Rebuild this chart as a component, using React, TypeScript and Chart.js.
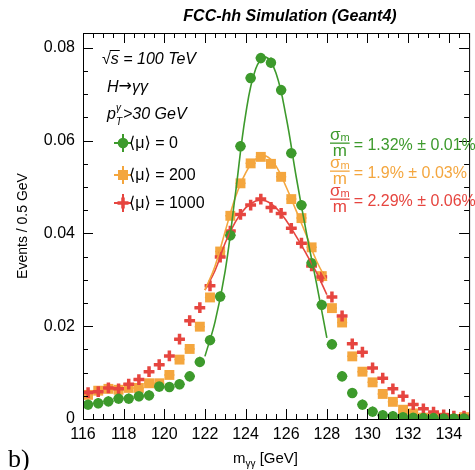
import React, { useEffect, useRef } from "react";
import { Chart, registerables } from "chart.js";

Chart.register(...registerables);

// ---------------- data ----------------
const binCenters = [
  116.25, 116.75, 117.25, 117.75, 118.25, 118.75, 119.25, 119.75, 120.25, 120.75,
  121.25, 121.75, 122.25, 122.75, 123.25, 123.75, 124.25, 124.75, 125.25, 125.75,
  126.25, 126.75, 127.25, 127.75, 128.25, 128.75, 129.25, 129.75, 130.25, 130.75,
  131.25, 131.75, 132.25, 132.75, 133.25, 133.75, 134.25, 134.75,
];
const binHalfWidth = 0.25;

const mu0Values = [
  0.0031, 0.0034, 0.0038, 0.0044, 0.0044, 0.0049, 0.0051, 0.0070, 0.0069, 0.0075,
  0.0092, 0.0123, 0.0170, 0.0264, 0.0396, 0.0588, 0.0735, 0.0778, 0.0768, 0.0709,
  0.0573, 0.0461, 0.0336, 0.0246, 0.0161, 0.0092, 0.0056, 0.0031, 0.0016, 0.0008,
  0.0006, 0.0004, 0.0003, 0.0002, 0.0002, 0.0001, 0.0001, 0.0001,
];
const mu200Values = [
  0.0052, 0.0061, 0.0065, 0.0063, 0.0067, 0.0067, 0.0077, 0.0077, 0.0095, 0.0128,
  0.0151, 0.0199, 0.0262, 0.0361, 0.0438, 0.0508, 0.0551, 0.0565, 0.0550, 0.0522,
  0.0474, 0.0433, 0.0370, 0.0308, 0.0239, 0.0208, 0.0135, 0.0102, 0.0079, 0.0054,
  0.0037, 0.0020, 0.0012, 0.0003, 0.0003, 0.0003, 0.0000, 0.0004,
];
const mu1000Values = [
  0.0057, 0.0059, 0.0067, 0.0065, 0.0075, 0.0085, 0.0102, 0.0117, 0.0136, 0.0172,
  0.0212, 0.0240, 0.0287, 0.0349, 0.0405, 0.0441, 0.0461, 0.0474, 0.0456, 0.0443,
  0.0411, 0.0379, 0.0330, 0.0306, 0.0263, 0.0222, 0.0162, 0.0144, 0.0110, 0.0088,
  0.0065, 0.0049, 0.0031, 0.0022, 0.0015, 0.0009, 0.0006, 0.0006,
];
const mu0Error = 0.0011;
const mu200Error = 0.0009;
const mu1000Error = 0.0008;

const fitX = [122.0, 122.5, 123.0, 123.5, 124.0, 124.5, 125.0, 125.5, 126.0, 126.5, 127.0, 127.5, 128.0];
const fitMu0 = [0.0135, 0.0210, 0.0320, 0.0485, 0.0655, 0.0755, 0.0780, 0.0745, 0.0650, 0.0520, 0.0400, 0.0290, 0.0175];
const fitMu200 = [0.0278, 0.0330, 0.0405, 0.0478, 0.0530, 0.0560, 0.0567, 0.0545, 0.0500, 0.0448, 0.0395, 0.0340, 0.0298];
const fitMu1000 = [0.0278, 0.0320, 0.0380, 0.0425, 0.0455, 0.0470, 0.0470, 0.0455, 0.0428, 0.0393, 0.0355, 0.0315, 0.0268];

const xMajorTicks = [116, 118, 120, 122, 124, 126, 128, 130, 132, 134];
const xMinorStep = 0.5;
const yMajorTicks = [0, 0.02, 0.04, 0.06, 0.08];
const yMinorStep = 0.005;

const legendLabels = ["⟨μ⟩ = 0", "⟨μ⟩ = 200", "⟨μ⟩ = 1000"];
const resolutionLabels = ["= 1.32% ± 0.01%", "= 1.9% ± 0.03%", "= 2.29% ± 0.06%"];

// ---------------- style ----------------
const GREEN = "#3d9a2c";
const ORANGE = "#f4a63e";
const RED = "#e6453f";
const FONT = "'Liberation Sans', Arial, 'DejaVu Sans', sans-serif";

const toXY = (xs: number[], ys: number[]) => xs.map((x, i) => ({ x, y: ys[i] }));

function drawMarker(ctx: CanvasRenderingContext2D, kind: string, x: number, y: number, color: string) {
  ctx.save();
  if (kind === "circle") {
    ctx.fillStyle = color;
    ctx.beginPath();
    ctx.arc(x, y, 5.3, 0, Math.PI * 2);
    ctx.fill();
  } else if (kind === "rect") {
    ctx.fillStyle = color;
    ctx.fillRect(x - 5, y - 5, 10, 10);
  } else {
    ctx.strokeStyle = color;
    ctx.lineWidth = 3.5;
    ctx.beginPath();
    ctx.moveTo(x - 5.5, y);
    ctx.lineTo(x + 5.5, y);
    ctx.moveTo(x, y - 5.5);
    ctx.lineTo(x, y + 5.5);
    ctx.stroke();
  }
  ctx.restore();
}

const decorPlugin = {
  id: "decor",
  beforeDatasetsDraw(chart: any) {
    const ctx: CanvasRenderingContext2D = chart.ctx;
    const xs = chart.scales.x;
    const ys = chart.scales.y;
    const a = chart.chartArea;
    const series = [
      { vals: mu200Values, err: mu200Error, color: ORANGE },
      { vals: mu1000Values, err: mu1000Error, color: RED },
      { vals: mu0Values, err: mu0Error, color: GREEN },
    ];
    ctx.save();
    ctx.beginPath();
    ctx.rect(a.left, a.top, a.right - a.left, a.bottom - a.top);
    ctx.clip();
    ctx.lineWidth = 1.5;
    for (const s of series) {
      ctx.strokeStyle = s.color;
      ctx.beginPath();
      s.vals.forEach((v, i) => {
        const px = xs.getPixelForValue(binCenters[i]);
        const py = ys.getPixelForValue(v);
        const x0 = xs.getPixelForValue(binCenters[i] - binHalfWidth);
        const x1 = xs.getPixelForValue(binCenters[i] + binHalfWidth);
        ctx.moveTo(x0, py);
        ctx.lineTo(x1, py);
        ctx.moveTo(px, ys.getPixelForValue(v - s.err));
        ctx.lineTo(px, ys.getPixelForValue(v + s.err));
      });
      ctx.stroke();
    }
    ctx.restore();
  },
  afterDraw(chart: any) {
    const ctx: CanvasRenderingContext2D = chart.ctx;
    const xs = chart.scales.x;
    const ys = chart.scales.y;
    const a = chart.chartArea;
    ctx.save();
    // frame
    ctx.strokeStyle = "#000";
    ctx.lineWidth = 1;
    ctx.strokeRect(Math.round(a.left) + 0.5, Math.round(a.top) + 0.5, a.right - a.left, a.bottom - a.top);
    // ticks
    ctx.beginPath();
    for (let v = xs.min; v <= xs.max + 1e-9; v += xMinorStep) {
      const major = xMajorTicks.some((t) => Math.abs(t - v) < 1e-6);
      const len = major ? 10 : 5;
      const px = Math.round(xs.getPixelForValue(v)) + 0.5;
      ctx.moveTo(px, a.bottom);
      ctx.lineTo(px, a.bottom - len);
      ctx.moveTo(px, a.top);
      ctx.lineTo(px, a.top + len);
    }
    for (let v = 0; v <= ys.max + 1e-9; v += yMinorStep) {
      const major = yMajorTicks.some((t) => Math.abs(t - v) < 1e-6);
      const len = major ? 10 : 5;
      const py = Math.round(ys.getPixelForValue(v)) + 0.5;
      ctx.moveTo(a.left, py);
      ctx.lineTo(a.left + len, py);
      ctx.moveTo(a.right, py);
      ctx.lineTo(a.right - len, py);
    }
    ctx.stroke();

    ctx.fillStyle = "#000";
    ctx.textBaseline = "alphabetic";
    ctx.textAlign = "left";
    // title
    ctx.font = `italic bold 16px ${FONT}`;
    ctx.textAlign = "center";
    ctx.fillText("FCC-hh Simulation (Geant4)", 290, 21);
    ctx.textAlign = "left";

    // sqrt(s) = 100 TeV
    ctx.font = `italic 16px ${FONT}`;
    const sqrtW = ctx.measureText("√").width;
    ctx.fillText("√", 102, 64);
    const sW = ctx.measureText("s").width;
    ctx.fillText("s", 102 + sqrtW, 64);
    ctx.fillRect(102 + sqrtW - 1, 50, sW + 2, 1);
    ctx.fillText(" = 100 TeV", 102 + sqrtW + sW, 64);

    // H -> gamma gamma
    ctx.fillText("H", 107, 92);
    let hx = 107 + ctx.measureText("H").width;
    ctx.font = `16px 'DejaVu Sans', sans-serif`;
    ctx.fillText("→", hx, 91);
    hx += ctx.measureText("→").width;
    ctx.font = `italic 16px ${FONT}`;
    ctx.fillText("γγ", hx, 92);

    // p_T^gamma > 30 GeV
    ctx.font = `italic 16px ${FONT}`;
    ctx.fillText("p", 107, 119);
    let px = 107 + ctx.measureText("p").width;
    ctx.font = `italic 10px ${FONT}`;
    ctx.fillText("γ", px, 111);
    ctx.fillText("T", px, 125);
    px += ctx.measureText("T").width + 1;
    ctx.font = `italic 16px ${FONT}`;
    ctx.fillText(">30 GeV", px, 119);

    // legend
    const legend = [
      { kind: "circle", color: GREEN, y: 143 },
      { kind: "rect", color: ORANGE, y: 175 },
      { kind: "cross", color: RED, y: 203 },
    ];
    legend.forEach((l, i) => {
      ctx.strokeStyle = l.color;
      ctx.lineWidth = 2;
      ctx.beginPath();
      ctx.moveTo(114, l.y);
      ctx.lineTo(132, l.y);
      ctx.moveTo(123, l.y - 9);
      ctx.lineTo(123, l.y + 9);
      ctx.stroke();
      drawMarker(ctx, l.kind, 123, l.y, l.color);
      ctx.fillStyle = "#000";
      ctx.font = `16px ${FONT}`;
      ctx.textBaseline = "middle";
      ctx.fillText(legendLabels[i], 129, l.y + 1);
      ctx.textBaseline = "alphabetic";
    });

    // resolution annotations
    const res = [
      { color: GREEN, line: 142.5 },
      { color: ORANGE, line: 170.5 },
      { color: RED, line: 198.5 },
    ];
    res.forEach((r, i) => {
      const x0 = 330;
      ctx.fillStyle = r.color;
      ctx.font = `17px ${FONT}`;
      ctx.fillText("σ", x0, r.line - 3);
      const wS = ctx.measureText("σ").width;
      ctx.font = `11px ${FONT}`;
      ctx.fillText("m", x0 + wS, r.line - 1.5);
      const total = wS + ctx.measureText("m").width;
      ctx.fillRect(x0, r.line, total, 1.3);
      ctx.font = `17px ${FONT}`;
      const wm = ctx.measureText("m").width;
      ctx.fillText("m", x0 + (total - wm) / 2, r.line + 13);
      ctx.font = `16px ${FONT}`;
      ctx.fillText(resolutionLabels[i], x0 + total + 4, r.line + 7);
    });

    // axis titles
    ctx.fillStyle = "#000";
    ctx.font = `15px ${FONT}`;
    ctx.fillText("m", 233, 463);
    let tx = 233 + ctx.measureText("m").width;
    ctx.font = `10px ${FONT}`;
    ctx.fillText("γγ", tx, 467);
    tx += ctx.measureText("γγ").width;
    ctx.font = `15px ${FONT}`;
    ctx.fillText(" [GeV]", tx, 463);

    ctx.save();
    ctx.translate(27, (a.top + a.bottom) / 2);
    ctx.rotate(-Math.PI / 2);
    ctx.font = `14px ${FONT}`;
    ctx.textAlign = "center";
    ctx.fillText("Events / 0.5 GeV", 0, 0);
    ctx.restore();

    // panel label
    ctx.font = `26px 'Liberation Serif', 'DejaVu Serif', serif`;
    ctx.fillText("b)", 8, 467);
    ctx.restore();
  },
};

export default function App() {
  const ref = useRef<HTMLCanvasElement | null>(null);
  useEffect(() => {
    if (!ref.current) return;
    const chart = new Chart(ref.current, {
      type: "scatter",
      data: {
        datasets: [
          { type: "line", label: "fit0", data: toXY(fitX, fitMu0), borderColor: GREEN, borderWidth: 1.6, pointRadius: 0, tension: 0.4, fill: false, order: 0 },
          { type: "line", label: "fit200", data: toXY(fitX, fitMu200), borderColor: ORANGE, borderWidth: 1.6, pointRadius: 0, tension: 0.4, fill: false, order: 1 },
          { type: "line", label: "fit1000", data: toXY(fitX, fitMu1000), borderColor: RED, borderWidth: 1.6, pointRadius: 0, tension: 0.4, fill: false, order: 2 },
          { label: "mu0", data: toXY(binCenters, mu0Values), pointStyle: "circle", pointRadius: 5.2, backgroundColor: GREEN, borderWidth: 0, order: 3 },
          { label: "mu1000", data: toXY(binCenters, mu1000Values), pointStyle: "cross", pointRadius: 5.4, borderColor: RED, borderWidth: 3.5, order: 4 },
          { label: "mu200", data: toXY(binCenters, mu200Values), pointStyle: "rect", pointRadius: 7, backgroundColor: ORANGE, borderWidth: 0, order: 5 },
        ] as any,
      },
      options: {
        animation: false,
        responsive: false,
        devicePixelRatio: 1,
        layout: { padding: { left: 0, top: 33, right: 1, bottom: 0 } },
        plugins: { legend: { display: false }, tooltip: { enabled: false }, title: { display: false } },
        scales: {
          x: {
            type: "linear",
            min: 116,
            max: 135,
            grid: { display: false, drawTicks: false },
            border: { display: false },
            afterBuildTicks: (s: any) => { s.ticks = xMajorTicks.map((v) => ({ value: v })); },
            afterFit: (s: any) => { s.height = 51; },
            ticks: { padding: 6, color: "#000", font: { family: FONT, size: 16 }, maxRotation: 0, autoSkip: false },
          },
          y: {
            type: "linear",
            min: 0,
            max: 0.0832,
            grid: { display: false, drawTicks: false },
            border: { display: false },
            afterBuildTicks: (s: any) => { s.ticks = yMajorTicks.map((v) => ({ value: v })); },
            afterFit: (s: any) => { s.width = 83; },
            ticks: {
              padding: 8,
              color: "#000",
              font: { family: FONT, size: 16 },
              callback: (v: any) => (Number(v) === 0 ? "0" : Number(v).toFixed(2)),
            },
          },
        },
      } as any,
      plugins: [decorPlugin],
    });
    return () => chart.destroy();
  }, []);
  return (
    <div style={{ position: "fixed", left: 0, top: 0, width: 475, height: 470, overflow: "hidden", background: "#fff" }}>
      <canvas ref={ref} width={478} height={470} style={{ display: "block" }} />
    </div>
  );
}
